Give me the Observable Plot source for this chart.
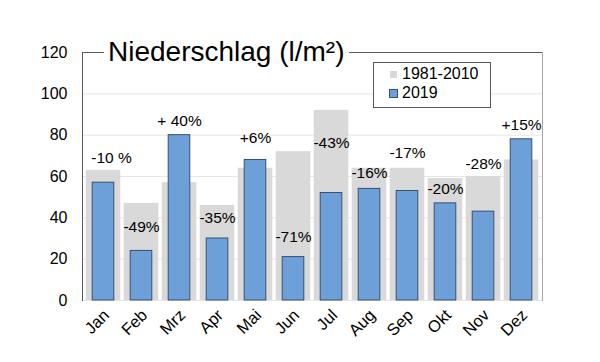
<!DOCTYPE html>
<html><head><meta charset="utf-8">
<script src="https://cdn.jsdelivr.net/npm/d3@7"></script>
<script src="https://cdn.jsdelivr.net/npm/@observablehq/plot@0.6"></script>
<style>
body{margin:0;background:#fff;font-family:"Liberation Sans",Arial,sans-serif;}
#wrap{position:relative;width:600px;height:362px;overflow:hidden;}
#title{position:absolute;left:104px;top:38px;font-size:28px;line-height:1;padding:0 4px;background:#fff;color:#000;white-space:nowrap;}
#legend{position:absolute;left:373px;top:62px;width:116px;height:44px;border:1px solid #595959;background:#fff;font-size:16px;color:#000;}
.item{position:absolute;left:15px;display:flex;align-items:center;white-space:nowrap;}
.sw{display:inline-block;margin-right:4px;box-sizing:border-box;}
</style></head><body>
<div id="wrap">
<div id="chart"></div>
<div id="title">Niederschlag (l/m²)</div>
<div id="legend">
  <div class="item" style="top:2px"><span class="sw" style="width:7px;height:7px;background:#d9d9d9;margin-left:1px;margin-right:5px"></span>1981-2010</div>
  <div class="item" style="top:21px"><span class="sw" style="width:9px;height:9px;background:#6d9fd9;border:1px solid #36506e"></span>2019</div>
</div>
</div>
<script>
const months = ["Jan","Feb","Mrz","Apr","Mai","Jun","Jul","Aug","Sep","Okt","Nov","Dez"];
const normal = [63,47,57,46,64,72,92,64,64,59,60,68];
const y2019 = [57,24,80,30,68,21,52,54,53,47,43,78];
const changeLabels = ["-10 %","-49%","+ 40%","-35%","+6%","-71%","-43%","-16%","-17%","-20%","-28%","+15%"];
const labelHeights = [69,35.5,87,39.7,78.4,30.7,76,61.5,71.3,53.7,66,85];
const yTicks = [0,20,40,60,80,100,120];

const data = months.map((m,i)=>({month:m, normal:normal[i], y2019:y2019[i], label:changeLabels[i], ly:labelHeights[i]}));

const chart = Plot.plot({
  width:600, height:362,
  marginLeft:82, marginRight:58, marginTop:52, marginBottom:62,
  style:{fontFamily:'"Liberation Sans",Arial,sans-serif', fontSize:"16px", color:"#000", background:"transparent"},
  x:{domain:months, padding:0, label:null},
  y:{domain:[0,120], label:null},
  marks:[
    Plot.ruleY([20,40,60,80,100], {stroke:"#e6e6e6", strokeWidth:1}),
    Plot.ruleY([0], {stroke:"#e6e6e6", strokeWidth:1}),
    Plot.barY(data, {x:"month", y:"normal", fill:"#d9d9d9", insetLeft:1.7, insetRight:1.7}),
    Plot.barY(data, {x:"month", y:"y2019", fill:"#6d9fd9", stroke:"#36506e", strokeWidth:1, insetLeft:8.2, insetRight:8.2}),
    Plot.text(data.filter(d=>d.month!=="Jan"), {x:"month", y:"ly", text:"label", fontSize:15.5, fill:"#000"}),
    Plot.text(data.filter(d=>d.month==="Jan"), {x:"month", y:"ly", text:"label", fontSize:15.5, fill:"#000", dx:8}),
    Plot.ruleY([120], {stroke:"#595959", strokeWidth:1}),
    Plot.frame({anchor:"left", stroke:"#595959"}),
    Plot.frame({anchor:"right", stroke:"#a6a6a6"}),
    Plot.axisY(yTicks, {tickSize:0, tickPadding:15, fontSize:16, fill:"#000", label:null}),
    Plot.axisX({tickSize:0, tickPadding:12, dx:3, tickRotate:-45, fontSize:16.5, fill:"#000", label:null})
  ]
});
document.getElementById("chart").appendChild(chart);
</script>
</body></html>
